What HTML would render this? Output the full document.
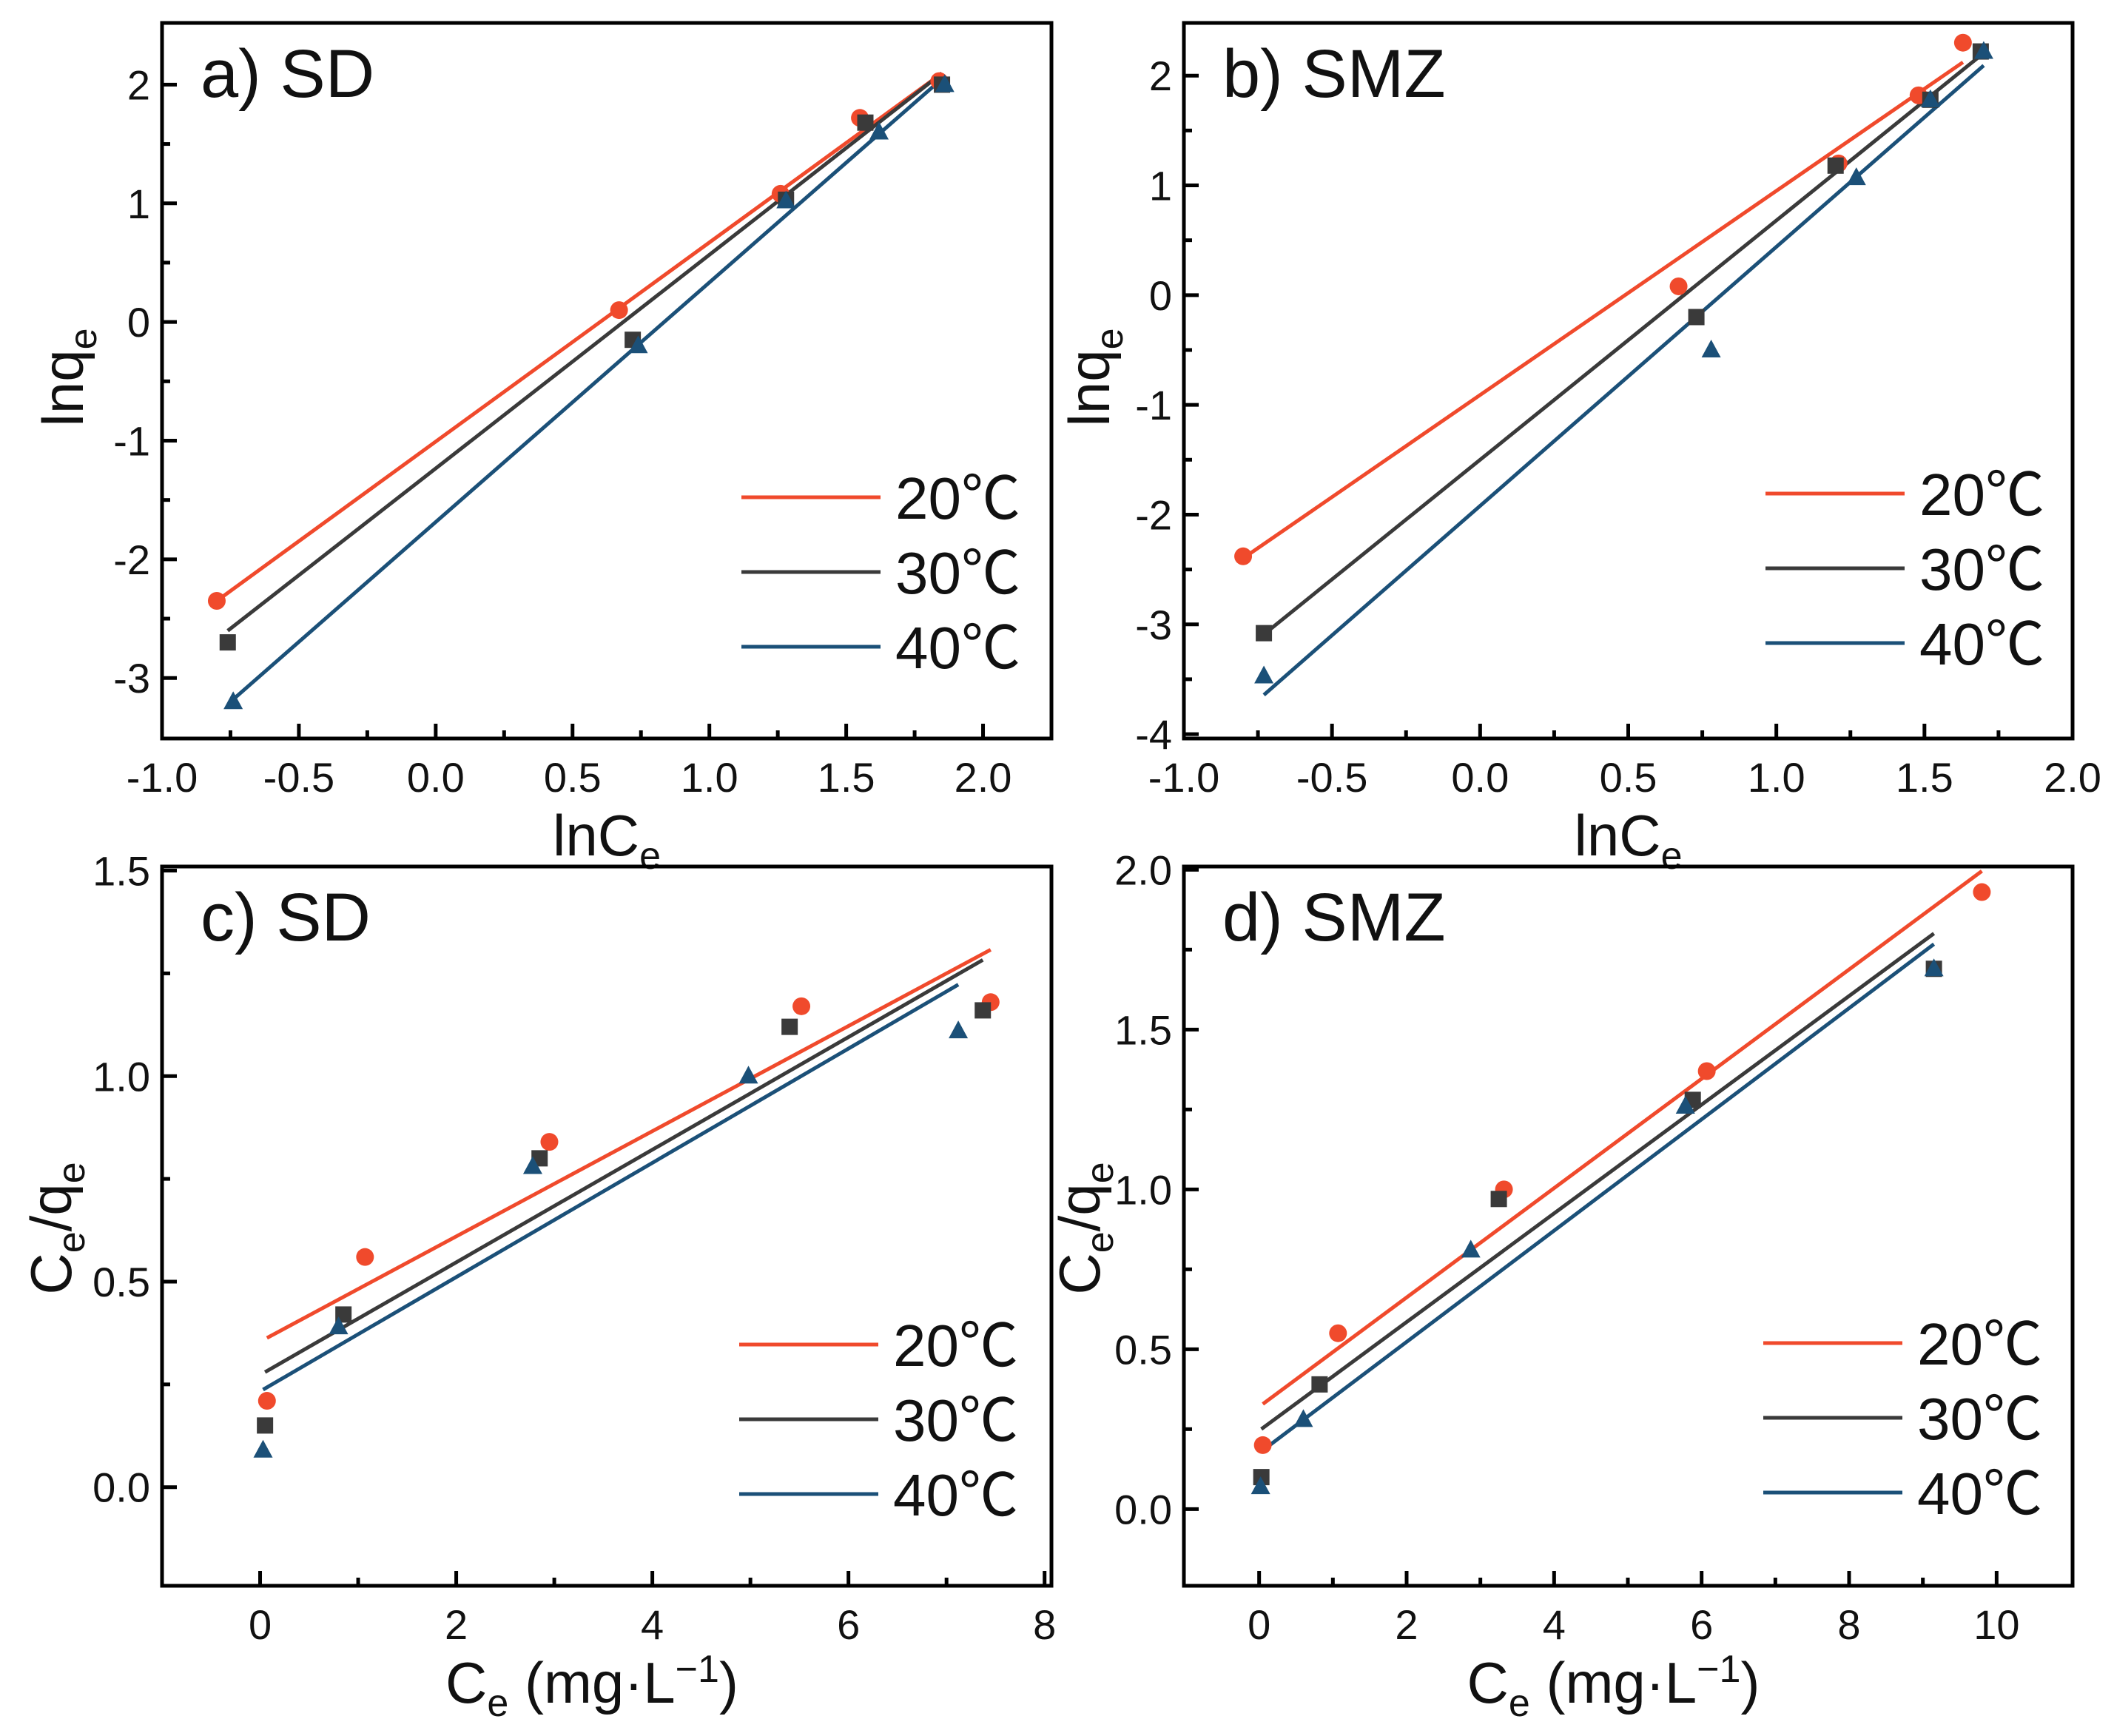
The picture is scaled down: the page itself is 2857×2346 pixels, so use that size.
<!DOCTYPE html>
<html><head><meta charset="utf-8"><style>
html,body{margin:0;padding:0;background:#fff;}
svg{display:block;font-family:"Liberation Sans","Noto Sans CJK SC",sans-serif;}
</style></head><body>
<svg id="fig" width="2857" height="2346" viewBox="0 0 2857 2346" xmlns="http://www.w3.org/2000/svg"></svg>
<script>
// ---- data ----
const seriesLabels = ["20℃","30℃","40℃"];
// panel a: lnCe vs lnqe (SD)
const aX20=[-0.8,0.67,1.26,1.55,1.84], aY20=[-2.35,0.1,1.08,1.72,2.03];
const aX30=[-0.76,0.72,1.28,1.57,1.85], aY30=[-2.7,-0.15,1.03,1.68,2.0];
const aX40=[-0.74,0.74,1.28,1.62,1.86], aY40=[-3.2,-0.2,1.02,1.6,2.0];
const aFit=[[1.678,-1.008],[1.80,-1.234],[2.019,-1.686]];
// panel b: SMZ
const bX20=[-0.8,0.67,1.21,1.48,1.63], bY20=[-2.38,0.08,1.2,1.82,2.3];
const bX30=[-0.73,0.73,1.2,1.52,1.69], bY30=[-3.08,-0.2,1.18,1.78,2.22];
const bX40=[-0.73,0.78,1.27,1.52,1.7], bY40=[-3.47,-0.5,1.07,1.78,2.22];
const bFit=[[1.86,-0.91],[2.18,-1.50],[2.36,-1.92]];
// panel c: Ce vs Ce/qe SD
const cX20=[0.07,1.07,2.95,5.52,7.45], cY20=[0.21,0.56,0.84,1.17,1.18];
const cX30=[0.05,0.85,2.85,5.4,7.37], cY30=[0.15,0.42,0.8,1.12,1.16];
const cX40=[0.03,0.8,2.78,4.98,7.12], cY40=[0.09,0.39,0.78,1.0,1.11];
const cFit=[[0.128,0.354],[0.137,0.273],[0.139,0.233]];
// panel d: SMZ
const dX20=[0.05,1.07,3.32,6.07,9.8], dY20=[0.2,0.55,1.0,1.37,1.93];
const dX30=[0.03,0.82,3.25,5.88,9.15], dY30=[0.1,0.39,0.97,1.28,1.69];
const dX40=[0.02,0.6,2.87,5.78,9.15], dY40=[0.07,0.28,0.81,1.26,1.69];
const dFit=[[0.171,0.32],[0.17,0.245],[0.174,0.175]];
// ticks
const aXTicks=["-1.0","-0.5","0.0","0.5","1.0","1.5","2.0"], aYTicks=["-3","-2","-1","0","1","2"];
const bXTicks=["-1.0","-0.5","0.0","0.5","1.0","1.5","2.0"], bYTicks=["-4","-3","-2","-1","0","1","2"];
const cXTicks=["0","2","4","6","8"], cYTicks=["0.0","0.5","1.0","1.5"];
const dXTicks=["0","2","4","6","8","10"], dYTicks=["0.0","0.5","1.0","1.5","2.0"];

const NS="http://www.w3.org/2000/svg";
const svg=document.getElementById('fig');
const colors=["#f04a2c","#3a3a3a","#1b5078"];
function el(tag,attrs,parent,text){const e=document.createElementNS(NS,tag);for(const k in attrs)e.setAttribute(k,attrs[k]);if(text!==undefined)e.textContent=text;(parent||svg).appendChild(e);return e;}

function panel(cfg){
  const g=el('g',{});
  
  
  const {L,R,T,B,xmin,xmax,ymin,ymax}=cfg;
  const sx=v=>L+(v-xmin)/(xmax-xmin)*(R-L);
  const sy=v=>B-(v-ymin)/(ymax-ymin)*(B-T);
  cfg.xt.forEach((t,i)=>{const v=parseFloat(t);const x=sx(v);
    const tk=el('line',{x1:x,x2:x,y1:B,y2:B-20,stroke:'#000','stroke-width':5},g);
    
    const lb=el('text',{x:x,y:B+72,'font-size':56,'text-anchor':'middle',fill:'#111'},g,t);
    
    if(i<cfg.xt.length-1){const m=sx((v+parseFloat(cfg.xt[i+1]))/2);el('line',{x1:m,x2:m,y1:B,y2:B-11,stroke:'#000','stroke-width':5},g);}
  });
  cfg.yt.forEach((t,i)=>{const v=parseFloat(t);const y=sy(v);
    const tk=el('line',{x1:L,x2:L+20,y1:y,y2:y,stroke:'#000','stroke-width':5},g);
    
    const lb=el('text',{x:L-16,y:y+20,'font-size':56,'text-anchor':'end',fill:'#111'},g,t);
    
    if(i<cfg.yt.length-1){const m=sy((v+parseFloat(cfg.yt[i+1]))/2);el('line',{x1:L,x2:L+11,y1:m,y2:m,stroke:'#000','stroke-width':5},g);}
  });
  cfg.series.forEach((s,k)=>{
    const x0=Math.min(...s[0]),x1=Math.max(...s[0]);
    const f=cfg.fit[k];
    const ln=el('line',{x1:sx(x0),y1:sy(f[0]*x0+f[1]),x2:sx(x1),y2:sy(f[0]*x1+f[1]),stroke:colors[k],'stroke-width':5},g);
    
    
  });
  cfg.series.forEach((s,k)=>{
    s[0].forEach((xv,i)=>{const x=sx(xv),y=sy(s[1][i]);let m;
      if(k===0)m=el('circle',{cx:x,cy:y,r:12,fill:colors[0]},g);
      else if(k===1)m=el('rect',{x:x-11,y:y-11,width:22,height:22,fill:colors[1]},g);
      else m=el('polygon',{points:`${x},${y-14} ${x-13},${y+10} ${x+13},${y+10}`,fill:colors[2]},g);
      
      
    });
  });
  const fr=el('rect',{x:L,y:T,width:R-L,height:B-T,fill:'none',stroke:'#000','stroke-width':5},g);
  
  const pt=el('text',{x:L+52,y:T+100,'font-size':92,fill:'#111'},g,cfg.title);
  
  seriesLabels.forEach((lab,k)=>{
    const y=cfg.legY+k*101;
    const lg=el('g',{},g);
    
    el('line',{x1:cfg.legX,x2:cfg.legX+188,y1:y,y2:y,stroke:colors[k],'stroke-width':5},lg);
    el('text',{x:cfg.legX+208,y:y+29,'font-size':80,fill:'#111'},lg,lab);
  });
  const xt=el('text',{x:(L+R)/2+cfg.xtOff,y:B+158,'font-size':78,'text-anchor':'middle',fill:'#111'},g);
  
  xt.innerHTML=cfg.xlab;
  const yt=el('text',{x:0,y:0,'font-size':78,'text-anchor':'middle',fill:'#111',transform:`translate(${cfg.ytX},${cfg.ytY}) rotate(-90)`},g);
  
  yt.innerHTML=cfg.ylab;
}
const lnC='lnC<tspan font-size="52" dy="18">e</tspan>';
const lnq='lnq<tspan font-size="52" dy="18">e</tspan>';
const ceq='C<tspan font-size="52" dy="18">e</tspan><tspan dy="-18">/q</tspan><tspan font-size="52" dy="18">e</tspan>';
const ceu='C<tspan font-size="52" dy="18">e</tspan><tspan dy="-18"> (mg·L</tspan><tspan font-size="52" dy="-28">−1</tspan><tspan dy="28">)</tspan>';
panel({name:'panel-a-sd',L:219,R:1421,T:31,B:998,xmin:-1.0,xmax:2.25,ymin:-3.51,ymax:2.52,xt:aXTicks,yt:aYTicks,
  series:[[aX20,aY20],[aX30,aY30],[aX40,aY40]],fit:aFit,title:'a) SD',legX:1002,legY:672,xlab:lnC,ylab:lnq,xtOff:0,ytX:112,ytY:510});
panel({name:'panel-b-smz',L:1600,R:2801,T:31,B:998,xmin:-1.0,xmax:2.0,ymin:-4.04,ymax:2.48,xt:bXTicks,yt:bYTicks,
  series:[[bX20,bY20],[bX30,bY30],[bX40,bY40]],fit:bFit,title:'b) SMZ',legX:2386,legY:667,xlab:lnC,ylab:lnq,xtOff:0,ytX:1499,ytY:510});
panel({name:'panel-c-sd',L:219,R:1421,T:1171,B:2143,xmin:-1.0,xmax:8.07,ymin:-0.24,ymax:1.51,xt:cXTicks,yt:cYTicks,
  series:[[cX20,cY20],[cX30,cY30],[cX40,cY40]],fit:cFit,title:'c) SD',legX:999,legY:1817,xlab:ceu,ylab:ceq,xtOff:-20,ytX:96,ytY:1660});
panel({name:'panel-d-smz',L:1600,R:2801,T:1171,B:2143,xmin:-1.02,xmax:11.03,ymin:-0.24,ymax:2.01,xt:dXTicks,yt:dYTicks,
  series:[[dX20,dY20],[dX30,dY30],[dX40,dY40]],fit:dFit,title:'d) SMZ',legX:2383,legY:1815,xlab:ceu,ylab:ceq,xtOff:-20,ytX:1486,ytY:1660});
</script>
</body></html>
